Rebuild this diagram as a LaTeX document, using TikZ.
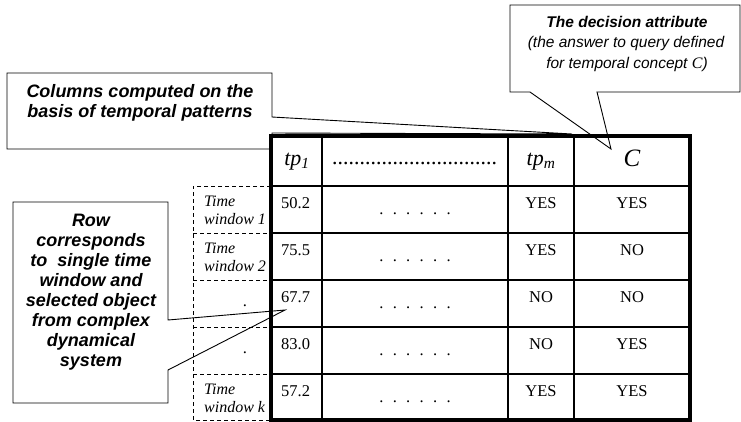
\documentclass[tikz,border=0pt]{standalone}
\usepackage{fontspec}
\setmainfont{Liberation Serif}
\newfontfamily\arialf{Liberation Sans}
\newcommand{\sixdots}{.\hskip 9.3pt.\hskip 9.3pt.\hskip 9.3pt.\hskip 9.3pt.\hskip 9.3pt.}
\begin{document}
\begin{tikzpicture}[x=1pt,y=-1pt,
  callout/.style={draw=black, line width=0.9pt, line join=miter},
  cbold/.style={font=\arialf\bfseries\itshape\fontsize{18}{20}\selectfont, align=center, inner sep=0pt},
  dtitle/.style={font=\arialf\bfseries\itshape\fontsize{15.5}{20}\selectfont, anchor=base, inner sep=0pt},
  dsub/.style={font=\arialf\itshape\fontsize{15.5}{20}\selectfont, anchor=base, inner sep=0pt},
  cell/.style={font=\fontsize{16.5}{18}\selectfont, anchor=base, inner sep=0pt},
  numcell/.style={cell, anchor=base west},
  twin/.style={font=\itshape\fontsize{16}{18}\selectfont, anchor=base west, inner sep=0pt},
  head/.style={font=\itshape\fontsize{22}{24}\selectfont, anchor=base, inner sep=0pt},
  inner/.style={line width=1.1pt},
  outer/.style={line width=3.2pt},
  dashline/.style={line width=0.8pt, dash pattern=on 4pt off 3pt}
]
\useasboundingbox (0,0) rectangle (741,421);

% ---- dashed row-label column ----
\draw[dashline] (271,186) -- (193,186) -- (193,420) -- (271,420);
\foreach \yy in {233,280,327,374}{\draw[dashline] (193,\yy) -- (271,\yy);}

% ---- table grid ----
\foreach \yy in {186,233,280,327,374}{\draw[inner] (271,\yy) -- (690,\yy);}
\foreach \xx in {322,508,574}{\draw[inner] (\xx,136) -- (\xx,420);}
\draw[outer] (271,136) rectangle (690,420);

% ---- header ----
\node[head] (htp1) at (297,165) {tp\textsubscript{1}};
\node[head] (hdots) at (415,164) {..............................};
\node[head] (htpm) at (541,165) {tp\textsubscript{m}};
\node[head, font=\itshape\fontsize{25}{26}\selectfont] (hC) at (632,166) {C};

% ---- rows ----
\foreach \r/\num/\a/\b [count=\i] in {186/50.2/YES/YES, 233/75.5/YES/NO, 280/67.7/NO/NO, 327/83.0/NO/YES, 374/57.2/YES/YES}{
  \node[numcell] (n\i) at (281,\r+22) {\num};
  \node[cell] (d\i) at (415,\r+28) {\sixdots};
  \node[cell] (a\i) at (541,\r+22) {\a};
  \node[cell] (b\i) at (632,\r+22) {\b};
}

% ---- row labels ----
\node[twin] (t1a) at (204,206) {Time};
\node[twin] (t1b) at (204,224) {window 1};
\node[twin] (t2a) at (204,253) {Time};
\node[twin] (t2b) at (204,271) {window 2};
\node[cell] (t3) at (245,306) {.};
\node[cell] (t4) at (245,353) {.};
\node[twin] (t5a) at (204,394) {Time};
\node[twin] (t5b) at (204,412) {window k};

% ---- callout: columns ----
\draw[callout] (7,73) -- (272,73) -- (272,117) -- (572,134) -- (272,133) -- (272,149) -- (7,149) -- cycle;
\node[cbold] (coltext) at (140,103) {Columns computed on the\\basis of temporal patterns};

% ---- callout: decision attribute ----
\draw[callout] (510,5) -- (740,5) -- (740,92) -- (597,92) -- (611,149) -- (530,92) -- (510,92) -- cycle;
\node[dtitle] (dec1) at (627,27.5) {The decision attribute};
\node[dsub] (dec2) at (626,47.5) {(the answer to query defined};
\node[dsub] (dec3) at (627,68) {for temporal concept {\rmfamily\itshape\fontsize{16}{20}\selectfont C})};

% ---- callout: row ----
\draw[callout] (13,202) -- (168,202) -- (168,320) -- (285,310) -- (168,370) -- (168,403) -- (13,403) -- cycle;
\node[cbold] (rowtext) at (91,292) {Row\\corresponds\\to\ \ single time\\window and\\selected object\\from complex\\dynamical\\system};
\end{tikzpicture}
\end{document}
